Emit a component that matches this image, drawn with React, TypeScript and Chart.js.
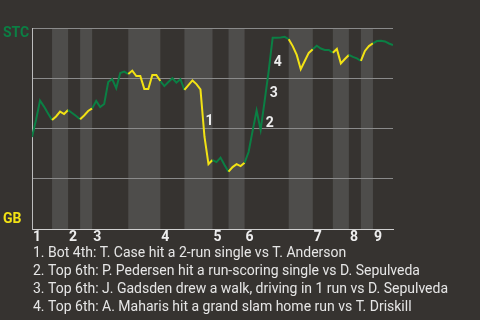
import React, { useEffect, useRef } from "react";
import { Chart, registerables } from "chart.js";

Chart.register(...registerables);

// STC win probability (%) after each play
const winProb: number[] = [
  45.8, 54.2, 63.9, 60.9, 57.5, 54.2, 56.0, 58.4, 57.2, 59.2,
  57.7, 56.2, 54.6, 56.5, 58.7, 60.0, 63.7, 60.7, 62.2, 73.1,
  74.6, 70.0, 77.6, 78.3, 77.1, 78.8, 76.1, 76.1, 69.7, 69.7,
  76.6, 76.6, 73.6, 71.1, 73.1, 75.0, 72.8, 74.5, 69.2, 71.6,
  73.9, 72.1, 69.5, 45.9, 32.3, 34.3, 33.3, 35.5, 31.8, 28.5,
  30.8, 32.3, 31.3, 33.0, 38.3, 48.8, 58.9, 49.3, 63.7, 78.6,
  95.2, 95.2, 95.3, 95.6, 94.4, 91.0, 86.6, 79.5, 83.6, 87.6,
  89.4, 91.2, 89.8, 89.1, 89.1, 87.7, 89.6, 82.4, 84.6, 86.6,
  85.6, 84.9, 83.6, 88.6, 91.0, 92.4, 93.5, 93.7, 93.3, 92.3,
  91.5,
];

// play index where each half-inning begins (top 1, bot 1, top 2, ...)
const halfInningStarts: number[] = [0, 5, 9, 12, 15, 24, 32, 38, 45, 49, 53, 64, 70, 75, 79, 82, 85];
const inningLabels: string[] = ["1", "2", "3", "4", "5", "6", "7", "8", "9"];

// key plays: label and play index where the play ends
const eventLabels: string[] = ["1", "2", "3", "4"];
const eventPlays: number[] = [43, 58, 59, 60];

const notes: string[] = [
  "1. Bot 4th: T. Case hit a 2-run single vs T. Anderson",
  "2. Top 6th: P. Pedersen hit a run-scoring single vs D. Sepulveda",
  "3. Top 6th: J. Gadsden drew a walk, driving in 1 run vs D. Sepulveda",
  "4. Top 6th: A. Maharis hit a grand slam home run vs T. Driskill",
];

const topTeam = "STC";
const bottomTeam = "GB";

const BG = "#363330";
const BAND = "#4e4d4b";
const GREEN = "#0b7f44";
const YELLOW = "#f2e214";
const FONT = "Roboto, 'Noto Sans', sans-serif";

function halfIndexOf(play: number): number {
  let k = 0;
  for (let i = 0; i < halfInningStarts.length; i++) {
    if (play >= halfInningStarts[i]) k = i;
  }
  return k;
}

export default function App() {
  const ref = useRef<HTMLCanvasElement | null>(null);

  useEffect(() => {
    if (!ref.current) return;
    const lastPlay = winProb.length - 1;

    const decor = {
      id: "decor",
      beforeDraw(chart: any) {
        const { ctx, chartArea, scales } = chart;
        const xs = scales.x;
        ctx.save();
        ctx.fillStyle = BG;
        ctx.fillRect(0, 0, chart.width, chart.height);
        ctx.fillStyle = BAND;
        for (let k = 1; k < halfInningStarts.length; k += 2) {
          const a = xs.getPixelForValue(halfInningStarts[k]);
          const bEnd = k + 1 < halfInningStarts.length ? halfInningStarts[k + 1] : lastPlay;
          const b = xs.getPixelForValue(bEnd);
          ctx.fillRect(a, chartArea.top, b - a, chartArea.bottom - chartArea.top);
        }
        ctx.restore();
      },
      afterDraw(chart: any) {
        const { ctx, chartArea, scales } = chart;
        const xs = scales.x;
        const ys = scales.y;
        ctx.save();
        ctx.textBaseline = "middle";
        ctx.textAlign = "left";
        ctx.font = `bold 14px ${FONT}`;
        ctx.fillStyle = GREEN;
        ctx.fillText(topTeam, 3, chartArea.top + 5);
        ctx.fillStyle = YELLOW;
        ctx.fillText(bottomTeam, 3, chartArea.bottom - 10);

        ctx.fillStyle = "#eeeeee";
        for (let i = 0; i < inningLabels.length; i++) {
          const play = halfInningStarts[i * 2];
          ctx.fillText(inningLabels[i], xs.getPixelForValue(play) + 1, chartArea.bottom + 8);
        }

        for (let i = 0; i < eventLabels.length; i++) {
          const p1 = eventPlays[i];
          const p0 = p1 - 1;
          const mx = (xs.getPixelForValue(p0) + xs.getPixelForValue(p1)) / 2;
          const my = (ys.getPixelForValue(winProb[p0]) + ys.getPixelForValue(winProb[p1])) / 2;
          ctx.fillText(eventLabels[i], mx + 3, my + 8);
        }

        ctx.font = `14px ${FONT}`;
        ctx.fillStyle = "#e6e6e6";
        for (let i = 0; i < notes.length; i++) {
          ctx.fillText(notes[i], 33, chartArea.bottom + 24 + i * 18);
        }
        ctx.restore();
      },
    };

    const chart = new Chart(ref.current, {
      type: "line",
      data: {
        datasets: [
          {
            data: winProb.map((v, i) => ({ x: i, y: v })),
            borderWidth: 2,
            pointRadius: 0,
            tension: 0,
            borderColor: GREEN,
            segment: {
              borderColor: (c: any) => (halfIndexOf(c.p0DataIndex) % 2 === 0 ? GREEN : YELLOW),
            },
          },
        ],
      },
      options: {
        animation: false,
        responsive: false,
        events: [],
        layout: { padding: { left: 32, top: 28, right: 87, bottom: 91 } },
        plugins: { legend: { display: false }, tooltip: { enabled: false } },
        scales: {
          x: {
            type: "linear",
            min: 0,
            max: lastPlay,
            ticks: { display: false },
            grid: { display: false, drawTicks: false },
            border: { display: true, color: "#cfcfcf", width: 1 },
          },
          y: {
            min: 0,
            max: 100,
            ticks: { display: false, stepSize: 25 },
            grid: {
              drawTicks: false,
              color: (c: any) => (c.tick && c.tick.value === 0 ? "rgba(0,0,0,0)" : "#8a8a8a"),
              lineWidth: 1,
            },
            border: { display: true, color: "#bdbdbd", width: 1 },
          },
        },
      },
      plugins: [decor],
    });
    return () => chart.destroy();
  }, []);

  return (
    <div style={{ position: "fixed", left: 0, top: 0, width: 480, height: 320, background: BG }}>
      <canvas ref={ref} width={480} height={320} style={{ display: "block" }} />
    </div>
  );
}
